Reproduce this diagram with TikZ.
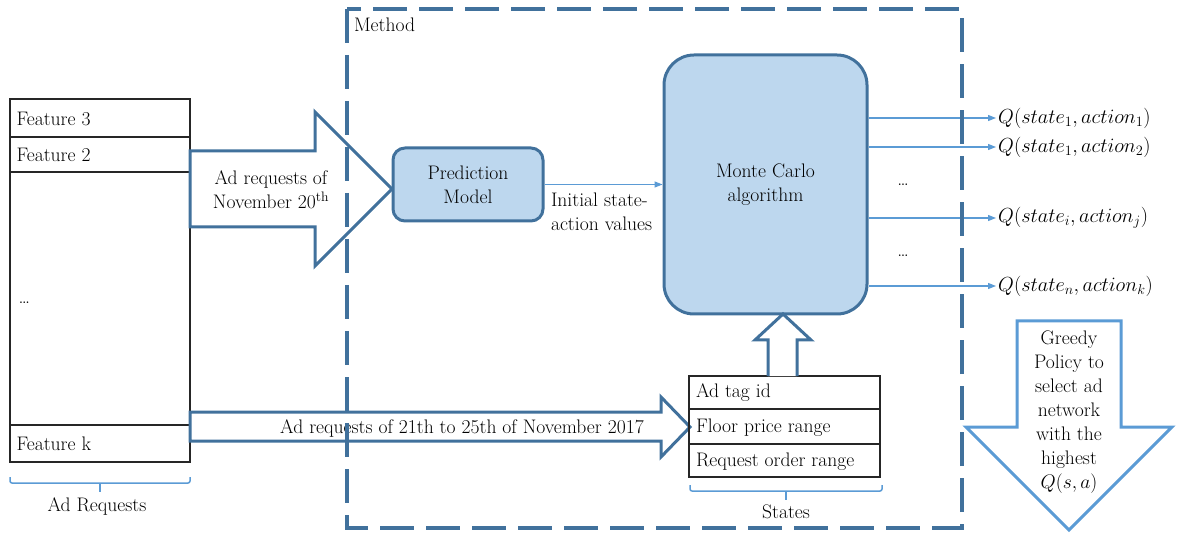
\RequirePackage{fix-cm}
\documentclass[tikz,border=0pt]{standalone}
\usepackage{fontspec}
\usetikzlibrary{arrows.meta}
\definecolor{methodblue}{RGB}{65,113,156}
\definecolor{boxfill}{RGB}{189,215,238}
\definecolor{linkblue}{RGB}{91,155,213}

\begin{document}
\begin{tikzpicture}[x=1pt,y=-1pt,font=\fontsize{19.6}{24}\selectfont,
                >={Triangle[length=8pt,width=6pt]},line join=miter,
                bigarrow/.style={draw=methodblue,line width=3pt,fill=white},
                modelbox/.style={draw=methodblue,line width=3pt,fill=boxfill,align=center},
                cellline/.style={draw=black!85,line width=1.3pt},
                link/.style={draw=linkblue,line width=1.2pt,->},
                qlabel/.style={anchor=west,inner sep=2pt,font=\fontsize{20.4}{24}\selectfont},
                bracket/.style={draw=linkblue,line width=1.5pt,rounded corners=2pt}]
            \useasboundingbox (0,0) rectangle (1180,534);
            \path (10,99) coordinate (ar1) (190,462) coordinate (ar2)
                  (689,376) coordinate (st1) (880,477) coordinate (st2);
            \draw[cellline] (ar1) rectangle (ar2);
            \foreach \Y in {137,172,425} \draw[cellline] (10,\Y) -- (190,\Y);
            \node[anchor=west] (feat3) at (13,119) {Feature 3};
            \node[anchor=west] (feat2) at (13,155) {Feature 2};
            \node[anchor=west] (featdots) at (15,303) {\dots};
            \node[anchor=west] (featk) at (13,444) {Feature k};
            \draw[bracket] (10,477) -- (10,483) -- (190,483) -- (190,477);
            \draw[bracket] (100,483) -- (100,492);
            \node (adreq) at (97,506) {Ad Requests};

            \draw[bigarrow] (190,151) -- (315,151) -- (315,112) -- (392,189) -- (315,266) -- (315,227) -- (190,227) -- cycle;
            \node[align=center] (nov20) at (271,190) {Ad requests of\\November 20\textsuperscript{th}};
            \draw[bigarrow] (190,412) -- (661,412) -- (661,397) -- (690,427) -- (661,457) -- (661,441) -- (190,441) -- cycle;
            \node (nov21) at (462,428) {Ad requests of 21th to 25th of November 2017};

            \node[modelbox,minimum width=150pt,minimum height=73pt,rounded corners=12pt] (pred) at (468,184.5) {Prediction\\Model};
            \node[modelbox,minimum width=203pt,minimum height=259pt,rounded corners=30pt] (mc) at (765.5,184.5) {Monte Carlo\\algorithm};
            \draw[link] (pred.east) -- (mc.west |- pred.east);
            \node[anchor=west,align=left] (init) at (547.5,212) {Initial state-\\action values};

            \draw[cellline] (st1) rectangle (st2);
            \foreach \Y in {409,444} \draw[cellline] (689,\Y) -- (880,\Y);
            \node[anchor=west] (tagid) at (692.5,393) {Ad tag id};
            \node[anchor=west] (floor) at (692.5,428) {Floor price range};
            \node[anchor=west] (order) at (692.5,462) {Request order range};
            \draw[bracket] (690,485) -- (690,491) -- (882,491) -- (882,485);
            \draw[bracket] (786,491) -- (786,500);
            \node (states) at (786,512) {States};
            \draw[bigarrow] (768,376) -- (768,340) -- (755,340) -- (783,314) -- (811,340) -- (797,340) -- (797,376);

            \node[qlabel] (q11) at (996,118) {$Q(state_1,action_1)$};
            \node[qlabel] (q12) at (996,147) {$Q(state_1,action_2)$};
            \node[qlabel] (qij) at (996,218) {$Q(state_i,action_j)$};
            \node[qlabel] (qnk) at (996,286) {$Q(state_n,action_k)$};
            \foreach \Q in {q11,q12,qij,qnk} \draw[link] (mc.east |- \Q.west) -- (\Q.west);
            \node (dots1) at (903,185) {\dots};
            \node (dots2) at (903,256) {\dots};

            \draw[draw=linkblue,line width=3pt,fill=white] (1017,321) -- (1121,321) -- (1121,427) -- (1172,427) -- (1069,530) -- (966,427) -- (1017,427) -- cycle;
            \node[align=center] (greedy) at (1069,412) {Greedy\\Policy to\\select ad\\network\\with the\\highest\\$Q(s,a)$};

            \draw[methodblue,line width=4pt,dash pattern=on 34pt off 12pt] (347,9) rectangle (962,528);
            \node[anchor=west] (method) at (350.5,25) {Method};
        \end{tikzpicture}
\end{document}
